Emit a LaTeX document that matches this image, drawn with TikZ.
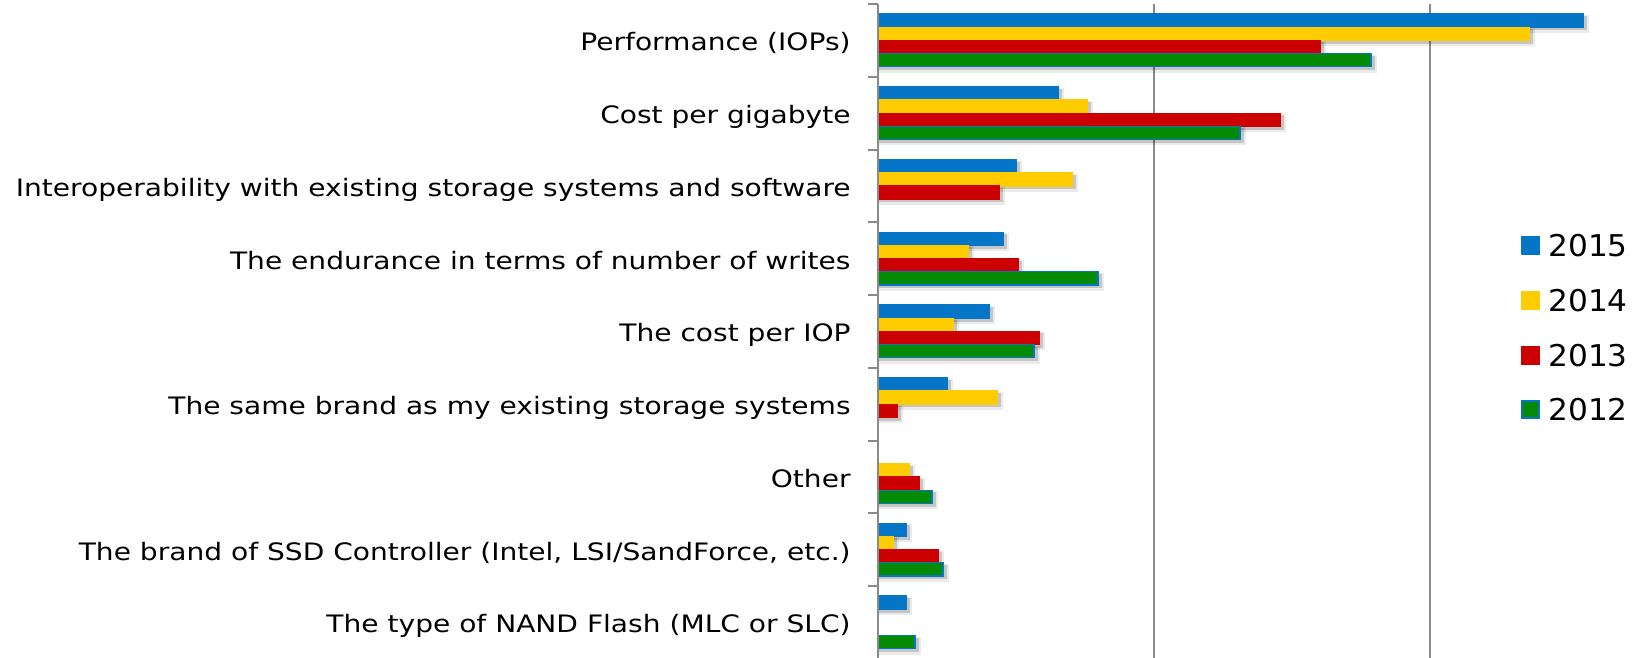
\documentclass[tikz,border=0pt]{standalone}
\usepackage{fontspec}
\setmainfont{DejaVu Sans}
\newfontfamily\labelfont[FakeStretch=1.17]{DejaVu Sans}
\newfontfamily\keyfont[FakeStretch=1.04]{DejaVu Sans}
\definecolor{c2015}{HTML}{0575C8}
\definecolor{c2014}{HTML}{FFCC00}
\definecolor{c2013}{HTML}{CC0000}
\definecolor{c2012}{HTML}{058A05}
\definecolor{axisgray}{HTML}{8A8A8A}
% one horizontal bar with a soft drop shadow: #1 top edge, #2 right end, #3 fill, #4 border
\newcommand\drawbar[4]{%
  \ifdim #2pt>0pt
    \fill[black,opacity=0.08] (879,#1+1) rectangle (#2+6,#1+19);
    \fill[black,opacity=0.16] (879,#1+2) rectangle (#2+3.5,#1+16.5);
    \filldraw[fill=#3,draw=#4,line width=0.6pt] (878.5,#1) rectangle (#2,#1+13.2);
  \fi}
\begin{document}
\begin{tikzpicture}[x=0.5pt,y=-0.5pt,
  gridline/.style={axisgray,line width=1pt},
  catlabel/.style={anchor=base east,inner sep=0pt,font=\labelfont\fontsize{12}{14}\selectfont},
  legtext/.style={anchor=base west,inner sep=0pt,font=\keyfont\fontsize{15}{18}\selectfont},
  legbox/.style={minimum size=9.5pt,inner sep=0pt,anchor=center}]
\useasboundingbox (0,0) rectangle (1637,658);
\fill[white] (0,0) rectangle (1637,658);

% value grid lines
\draw[gridline] (1154,4) -- (1154,658);
\draw[gridline] (1430,4) -- (1430,658);

% bars: category index / 2015 / 2014 / 2013 / 2012 (0 = no bar)
\foreach \c/\b/\y/\r/\g in {
  0/1583/1529/1320/1371,
  1/1058/1087/1280/1240,
  2/1016/1072/999/0,
  3/1003/968/1018/1098,
  4/989/953/1039/1034,
  5/947/997/897/0,
  6/0/909/919/932,
  7/906/893/938/943,
  8/906/0/0/915}{
  \pgfmathsetmacro\top{4+72.75*\c+10}
  \drawbar{\top}{\b}{c2015}{c2015}
  \drawbar{\top+13.2}{\y}{c2014}{c2014}
  \drawbar{\top+26.4}{\r}{c2013}{c2013}
  \drawbar{\top+39.6}{\g}{c2012}{c2015}
}

% category axis with tick marks
\draw[gridline] (877.5,4) -- (877.5,658);
\foreach \i in {0,...,9}{
  \draw[gridline] (868,4+72.75*\i) -- (877.5,4+72.75*\i);
}

% category labels
\node[catlabel] (l0) at (851,4+72.75*0.5+10.5) {Performance (IOPs)};
\node[catlabel] (l1) at (851,4+72.75*1.5+10.5) {Cost per gigabyte};
\node[catlabel] (l2) at (851,4+72.75*2.5+10.5) {Interoperability with existing storage systems and software};
\node[catlabel] (l3) at (851,4+72.75*3.5+10.5) {The endurance in terms of number of writes};
\node[catlabel] (l4) at (851,4+72.75*4.5+10.5) {The cost per IOP};
\node[catlabel] (l5) at (851,4+72.75*5.5+10.5) {The same brand as my existing storage systems};
\node[catlabel] (l6) at (851,4+72.75*6.5+10.5) {Other};
\node[catlabel] (l7) at (851,4+72.75*7.5+10.5) {The brand of SSD Controller (Intel, LSI/SandForce, etc.)};
\node[catlabel] (l8) at (851,4+72.75*8.5+10.5) {The type of NAND Flash (MLC or SLC)};

% legend
\node[legbox,fill=c2015] (k15) at (1530.5,245) {};
\node[legbox,fill=c2014] (k14) at (1530.5,300) {};
\node[legbox,fill=c2013] (k13) at (1530.5,355) {};
\node[legbox,fill=c2012,draw=c2015,line width=1pt,minimum size=8.5pt] (k12) at (1530.5,409) {};
\node[legtext] (t15) at (1548,245+11.5) {2015};
\node[legtext] (t14) at (1548,300+11.5) {2014};
\node[legtext] (t13) at (1548,355+11.5) {2013};
\node[legtext] (t12) at (1548,409+11.5) {2012};
\end{tikzpicture}
\end{document}
